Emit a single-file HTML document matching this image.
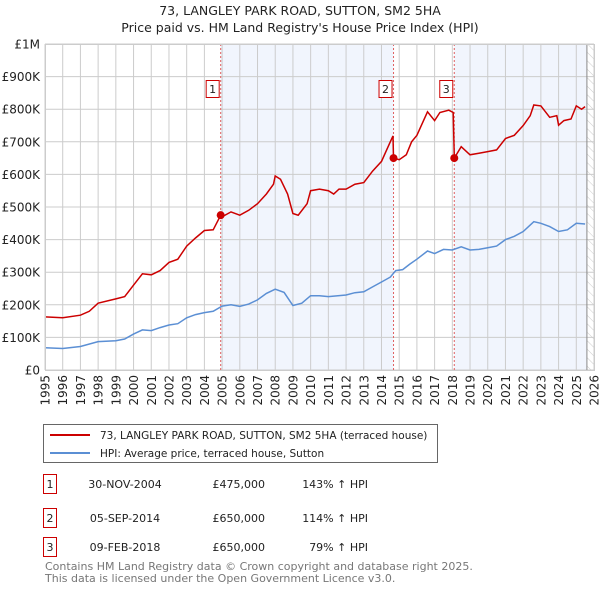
<!DOCTYPE html>
<html><head><meta charset="utf-8"><style>
body{margin:0;background:#fff;font-family:"Liberation Sans","DejaVu Sans",sans-serif}
svg text{font-family:"DejaVu Sans","Liberation Sans",sans-serif}
</style></head><body>
<svg id="c" width="600" height="590" xmlns="http://www.w3.org/2000/svg">
<defs><pattern id="hatch" width="6" height="6" patternUnits="userSpaceOnUse" patternTransform="rotate(-45)"><line x1="0" y1="0" x2="0" y2="6" stroke="#ccc" stroke-width="1"/></pattern></defs>
<text x="300" y="15" text-anchor="middle" font-size="12.5" fill="#222">73, LANGLEY PARK ROAD, SUTTON, SM2 5HA</text>
<text x="300" y="32" text-anchor="middle" font-size="12.5" fill="#222">Price paid vs. HM Land Registry's House Price Index (HPI)</text>
<g id="plot"></g>
<g>
<rect x="43.5" y="424.5" width="394" height="38" fill="#fff" stroke="#666"/>
<line x1="50" y1="435" x2="90" y2="435" stroke="#cc0000" stroke-width="2"/>
<text x="100" y="439" font-size="10.5" fill="#222">73, LANGLEY PARK ROAD, SUTTON, SM2 5HA (terraced house)</text>
<line x1="50" y1="453" x2="90" y2="453" stroke="#5b8fd4" stroke-width="2"/>
<text x="100" y="457" font-size="10.5" fill="#222">HPI: Average price, terraced house, Sutton</text>
</g>
<g font-size="11" fill="#222">
<rect x="43.5" y="474.5" width="13" height="19" fill="#fff" stroke="#cc0000"/><text x="50" y="488" text-anchor="middle">1</text>
<text x="125" y="488" text-anchor="middle">30-NOV-2004</text><text x="265" y="488" text-anchor="end">£475,000</text><text x="368" y="488" text-anchor="end">143% ↑ HPI</text>
<rect x="43.5" y="508.5" width="13" height="19" fill="#fff" stroke="#cc0000"/><text x="50" y="522" text-anchor="middle">2</text>
<text x="125" y="522" text-anchor="middle">05-SEP-2014</text><text x="265" y="522" text-anchor="end">£650,000</text><text x="368" y="522" text-anchor="end">114% ↑ HPI</text>
<rect x="43.5" y="537.5" width="13" height="19" fill="#fff" stroke="#cc0000"/><text x="50" y="551" text-anchor="middle">3</text>
<text x="125" y="551" text-anchor="middle">09-FEB-2018</text><text x="265" y="551" text-anchor="end">£650,000</text><text x="368" y="551" text-anchor="end">79% ↑ HPI</text>
</g>
<text x="45" y="570" font-size="11" fill="#777">Contains HM Land Registry data © Crown copyright and database right 2025.</text>
<text x="45" y="582" font-size="11" fill="#777">This data is licensed under the Open Government Licence v3.0.</text>
</svg>
<script>
const yTicks=[0,100,200,300,400,500,600,700,800,900,1000];
const yTickLabels=["£0","£100K","£200K","£300K","£400K","£500K","£600K","£700K","£800K","£900K","£1M"];
const xYears=[1995,1996,1997,1998,1999,2000,2001,2002,2003,2004,2005,2006,2007,2008,2009,2010,2011,2012,2013,2014,2015,2016,2017,2018,2019,2020,2021,2022,2023,2024,2025,2026];
const saleDates=[2004.92,2014.68,2018.11];
const salePrices=[475,650,650];
const saleLabels=["1","2","3"];
const redT=[1995,1996,1997,1997.5,1998,1999,1999.5,2000,2000.5,2001,2001.5,2002,2002.5,2003,2003.5,2004,2004.5,2004.92,2005,2005.5,2006,2006.5,2007,2007.5,2007.9,2008,2008.3,2008.7,2009,2009.3,2009.8,2010,2010.5,2011,2011.3,2011.6,2012,2012.5,2013,2013.5,2014,2014.5,2014.65,2014.68,2015,2015.4,2015.7,2016,2016.6,2017,2017.3,2017.8,2018.05,2018.11,2018.5,2019,2019.5,2020,2020.5,2021,2021.5,2022,2022.4,2022.6,2023,2023.5,2023.9,2024,2024.3,2024.7,2025,2025.3,2025.5];
const redV=[163,160,168,180,205,218,225,260,295,292,305,330,340,380,405,428,430,475,470,485,475,490,510,540,570,595,585,540,480,475,510,550,555,550,540,555,555,570,575,610,640,700,718,650,645,660,700,720,792,765,790,797,790,650,685,660,665,670,675,710,720,750,780,813,810,775,780,751,765,770,810,800,808];
const blueT=[1995,1996,1997,1998,1999,1999.5,2000,2000.5,2001,2001.5,2002,2002.5,2003,2003.5,2004,2004.5,2005,2005.5,2006,2006.5,2007,2007.5,2008,2008.5,2009,2009.5,2010,2010.5,2011,2012,2012.5,2013,2013.5,2014,2014.5,2014.8,2015.2,2015.6,2016,2016.6,2017,2017.5,2018,2018.5,2019,2019.5,2020,2020.5,2021,2021.5,2022,2022.6,2023,2023.5,2024,2024.5,2025,2025.5];
const blueV=[68,66,72,87,90,95,110,123,121,130,138,142,160,170,176,180,196,200,195,202,215,235,248,238,198,205,228,228,225,230,237,240,255,270,285,305,308,325,340,365,357,370,368,378,368,370,375,380,400,410,425,455,450,440,425,430,450,448];
const X0=45,X1=594,Y0=370,Y1=44;
const xs=t=>X0+(t-1995)/(2026-1995)*(X1-X0);
const ys=v=>Y0-v/1000*(Y0-Y1);
const NS="http://www.w3.org/2000/svg";
const g=document.getElementById('plot');
function mk(tag,at){const e=document.createElementNS(NS,tag);for(const k in at)e.setAttribute(k,at[k]);g.appendChild(e);return e;}
let r=mk('rect',{x:xs(saleDates[0]),y:Y1,width:xs(saleDates[1])-xs(saleDates[0]),height:Y0-Y1,fill:'#f1f5fd'});


r=mk('rect',{x:xs(saleDates[2]),y:Y1,width:xs(2025.6)-xs(saleDates[2]),height:Y0-Y1,fill:'#f1f5fd'});


r=mk('rect',{x:xs(2025.6),y:Y1,width:X1-xs(2025.6),height:Y0-Y1,fill:'url(#hatch)'});


yTicks.forEach((v,i)=>{
 const l=mk('line',{x1:X0,x2:X1,y1:ys(v),y2:ys(v),stroke:'#ccc','stroke-width':1});
 
 
 const t=mk('text',{x:40,y:ys(v)+4.5,'text-anchor':'end','font-size':12,fill:'#222'});
 t.textContent=yTickLabels[i];
 
 
});
xYears.forEach(yr=>{
 const l=mk('line',{x1:xs(yr),x2:xs(yr),y1:Y1,y2:Y0,stroke:'#ccc','stroke-width':1});
 
 
 const t=mk('text',{x:0,y:0,'text-anchor':'end','font-size':12,fill:'#222',transform:`translate(${xs(yr)+4.5},375) rotate(-90)`});
 t.textContent=yr;
 
 
});
const vl=mk('line',{x1:xs(2025.6),x2:xs(2025.6),y1:Y1,y2:Y0,stroke:'#888','stroke-width':1});


saleDates.forEach((d,i)=>{
 const l=mk('line',{x1:xs(d),x2:xs(d),y1:Y1,y2:Y0,stroke:'#e06060','stroke-width':1,'stroke-dasharray':'2,2'});
 
 
});
const path=(T,V)=>T.map((t,i)=>(i?'L':'M')+xs(t).toFixed(1)+','+ys(V[i]).toFixed(1)).join('');
let p=mk('path',{d:path(blueT,blueV),fill:'none',stroke:'#5b8fd4','stroke-width':1.5});


p=mk('path',{d:path(redT,redV),fill:'none',stroke:'#cc0000','stroke-width':1.5});


saleDates.forEach((d,i)=>{
 const c=mk('circle',{cx:xs(d),cy:ys(salePrices[i]),r:4,fill:'#cc0000'});
 
 
 const b=mk('rect',{x:xs(d)-14.5,y:80.5,width:13,height:17,fill:'#fff',stroke:'#cc0000'});
 
 
 const t=mk('text',{x:xs(d)-8,y:93,'text-anchor':'middle','font-size':11,fill:'#222'});
 t.textContent=saleLabels[i];
 
 
});
const bx=mk('rect',{x:X0+0.5,y:Y1+0.5,width:X1-X0,height:Y0-Y1,fill:'none',stroke:'#ccc'});


</script>
</body></html>
